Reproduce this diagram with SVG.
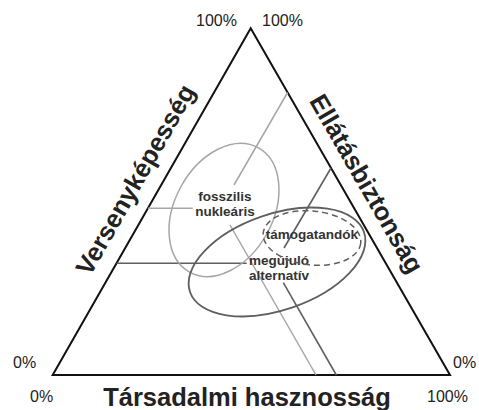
<svg xmlns="http://www.w3.org/2000/svg" width="479" height="410" viewBox="0 0 479 410">
<style>
.pct{font-family:"Liberation Sans",Arial,sans-serif;font-size:16px;fill:#222}
.axis{font-family:"Liberation Sans",Arial,sans-serif;font-size:25.5px;font-weight:bold;fill:#222}
.lbl{font-family:"Liberation Sans",Arial,sans-serif;font-size:13.5px;font-weight:bold;fill:#333}
.light{stroke:#a6a6a6;stroke-width:1.5;fill:none}
.dark{stroke:#5f5f5f;stroke-width:1.6;fill:none}
</style>
<rect width="479" height="410" fill="#fff"/>
<g id="triangle">
<polygon points="250.7,28.3 52.7,375 450,375" fill="none" stroke="#111" stroke-width="2"/>
</g>
<g id="connectors">
<line class="light" x1="287.6" y1="92.5" x2="234" y2="185"/>
<line class="light" x1="147.9" y1="208.3" x2="192.7" y2="208.3"/>
<line class="light" x1="230" y1="225" x2="316" y2="375"/>
<line class="dark" x1="331" y1="168" x2="284" y2="248"/>
<line class="dark" x1="116.5" y1="263.3" x2="246.7" y2="263.3"/>
<line class="dark" x1="283.3" y1="282.7" x2="336.3" y2="375"/>
</g>
<g id="fosszilis">
<ellipse class="light" cx="224" cy="210" rx="49" ry="71" transform="rotate(29 224 210)"/>
<text class="lbl" x="225" y="201" text-anchor="middle">fosszilis</text>
<text class="lbl" x="225" y="216" text-anchor="middle">nukleáris</text>
</g>
<g id="megujulo">
<ellipse cx="277" cy="262" rx="92" ry="48" transform="rotate(-19 277 262)" fill="none" stroke="#5f5f5f" stroke-width="1.8"/>
<text class="lbl" x="249" y="265">megújuló</text>
<text class="lbl" x="249" y="280">alternatív</text>
</g>
<g id="tamogatandok">
<ellipse cx="312" cy="238" rx="49" ry="27" transform="rotate(6 312 238)" fill="none" stroke="#5f5f5f" stroke-width="1.5" stroke-dasharray="6,4"/>
<text class="lbl" x="312" y="239" text-anchor="middle">támogatandók</text>
</g>
<g id="labels">
<text class="pct" x="196" y="26">100%</text>
<text class="pct" x="262" y="26">100%</text>
<text class="pct" x="13" y="368">0%</text>
<text class="pct" x="453" y="368">0%</text>
<text class="pct" x="30" y="402">0%</text>
<text class="pct" x="427" y="402">100%</text>
<text class="axis" x="247" y="406" text-anchor="middle">Társadalmi hasznosság</text>
<text class="axis" transform="translate(143,184) rotate(-60.3)" text-anchor="middle">Versenyképesség</text>
<text class="axis" transform="translate(359,188) rotate(60.1)" text-anchor="middle">Ellátásbiztonság</text>
</g>
</svg>
